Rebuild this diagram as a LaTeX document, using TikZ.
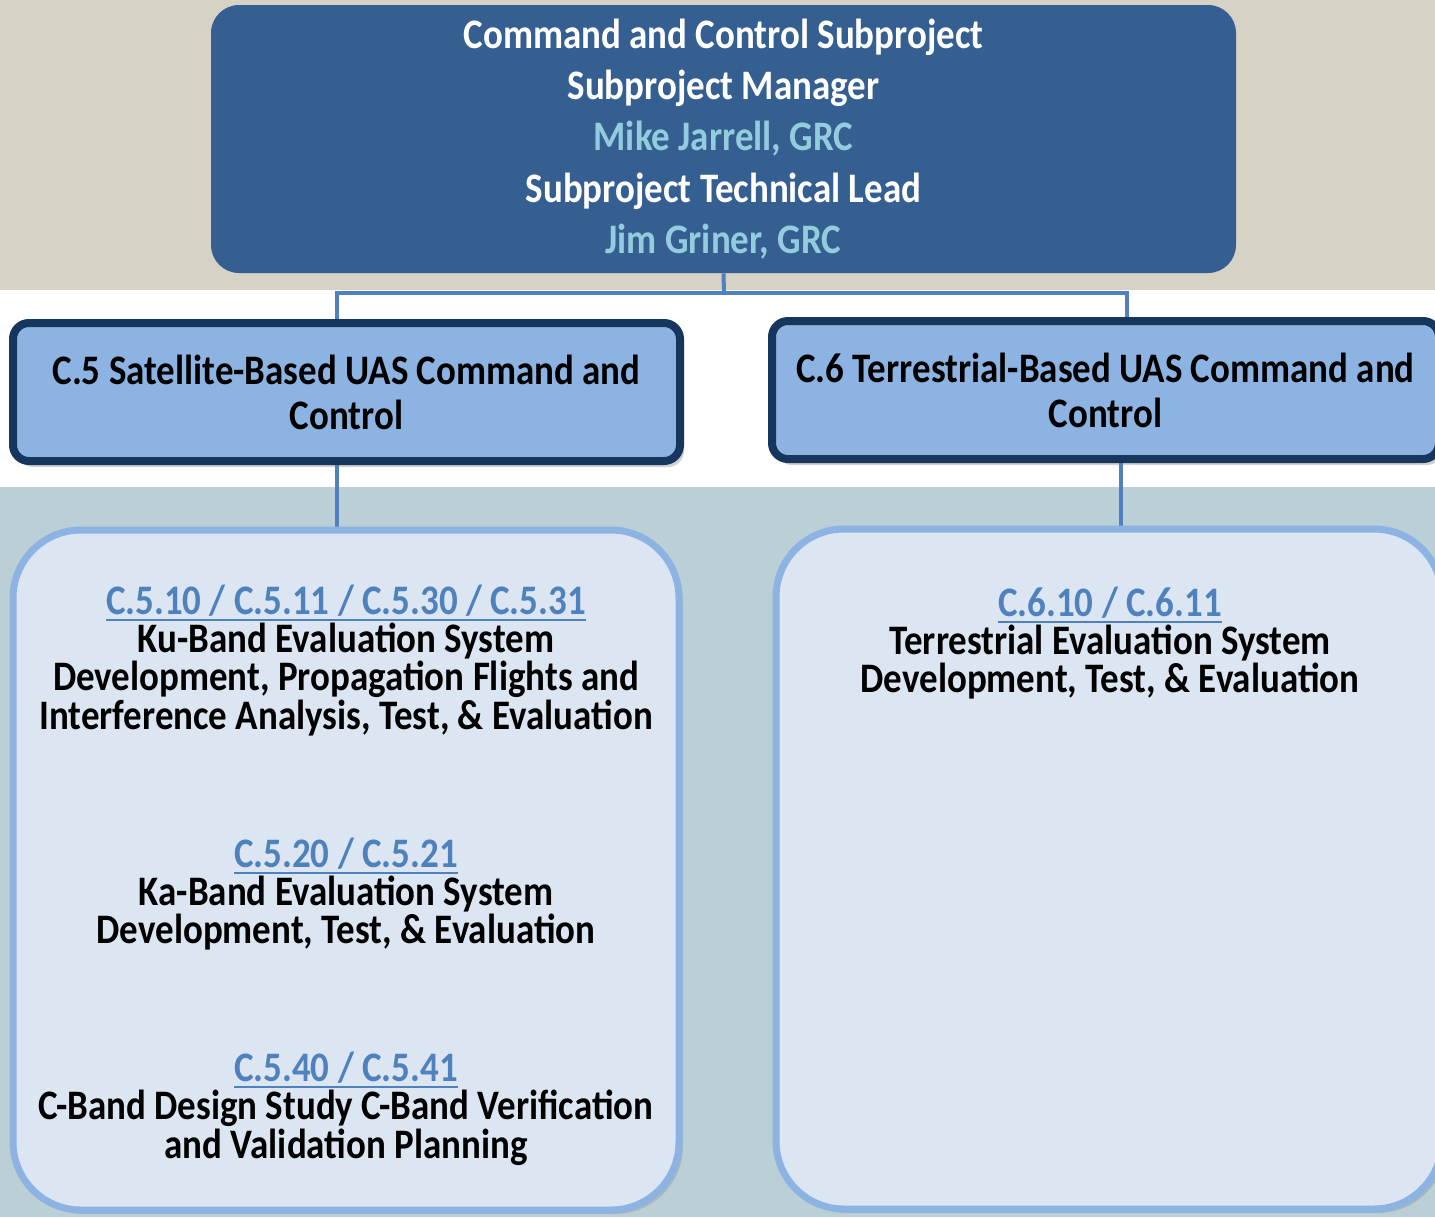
\documentclass[tikz,border=0pt]{standalone}
\usepackage{fontspec}
\setmainfont{Carlito}[FakeStretch=0.88]
\usetikzlibrary{positioning,shadows,backgrounds}
\definecolor{sandbg}{HTML}{D6D2C6}
\definecolor{slatebg}{HTML}{BBD0D6}
\definecolor{headblue}{HTML}{365F91}
\definecolor{nameblue}{HTML}{93CDDD}
\definecolor{midblue}{HTML}{8DB3E2}
\definecolor{navyline}{HTML}{17365D}
\definecolor{paleblue}{HTML}{DCE6F2}
\definecolor{linkblue}{HTML}{4F81BD}
\tikzset{
  topbox/.style={fill=headblue, text=white, rounded corners=14pt, minimum width=512.5pt,
    minimum height=134pt, inner sep=0pt, align=center,
    font=\bfseries\fontsize{21}{25.6}\selectfont},
  groupbox/.style={fill=midblue, draw=navyline, line width=4pt, rounded corners=8pt,
    minimum width=333.5pt, minimum height=69pt, inner sep=0pt, align=center,
    font=\bfseries\fontsize{21}{22.5}\selectfont,
    drop shadow={shadow xshift=2pt, shadow yshift=-3pt, opacity=0.35}},
  workbox/.style={fill=paleblue, draw=midblue, line width=3.5pt, rounded corners=34pt,
    minimum width=333pt, minimum height=340pt, inner sep=0pt,
    drop shadow={shadow xshift=2pt, shadow yshift=-2pt, opacity=0.3}},
  worktext/.style={align=center, inner sep=0pt, font=\bfseries\fontsize{21}{17.9}\selectfont},
  connector/.style={draw=linkblue, line width=2pt},
}
\newcommand{\wbsref}[1]{\textcolor{linkblue}{\setbox0=\hbox{#1}\rlap{\rule[-3.5pt]{\wd0}{1pt}}\box0}}
\begin{document}
\begin{tikzpicture}[x=0.5pt,y=-0.5pt]
  \useasboundingbox (0,0) rectangle (1435,1217);
  \clip (0,0) rectangle (1435,1217);

  \node[topbox] (cc) at (723.5,139) {Command and Control Subproject\\
    Subproject Manager\\
    \textcolor{nameblue}{Mike Jarrell, GRC}\\
    Subproject Technical Lead\\
    \textcolor{nameblue}{Jim Griner, GRC}};

  \node[groupbox] (sat) at (346.5,392) {C.5 Satellite-Based UAS Command and\\ Control};
  \node[groupbox] (ter) at (1105.5,390) {C.6 Terrestrial-Based UAS Command and\\ Control};

  \node[workbox] (satwork) at (346,870) {};
  \node[workbox] (terwork) at (1109,869) {};

  % work packages
  \node[worktext] (ku) at (346,660.5) {\wbsref{C.5.10 / C.5.11 / C.5.30 / C.5.31}\\
    Ku-Band Evaluation System\\
    Development, Propagation Flights and\\
    Interference Analysis, Test, \& Evaluation};
  \node[worktext] (ka) at (346,894) {\wbsref{C.5.20 / C.5.21}\\
    Ka-Band Evaluation System\\
    Development, Test, \& Evaluation};
  \node[worktext] (cband) at (346,1108.5) {\wbsref{C.5.40 / C.5.41}\\
    C-Band Design Study C-Band Verification\\
    and Validation Planning};
  \node[worktext] (terr) at (1110,643) {\wbsref{C.6.10 / C.6.11}\\
    Terrestrial Evaluation System\\
    Development, Test, \& Evaluation};

  \coordinate (bus) at (724,293);
  \coordinate (satin) at (337,300);
  \coordinate (terin) at (1127,300);
  \coordinate (satout) at (337,500);
  \coordinate (terout) at (1121,500);

  \begin{scope}[on background layer]
    \fill[sandbg] (0,0) rectangle (1435,290);
    \fill[white] (0,290) rectangle (1435,487);
    \fill[slatebg] (0,487) rectangle (1435,1217);
    \draw[connector] (cc.south) -- (bus);
    \draw[connector] (sat.north -| satin) |- (bus) -| (ter.north -| terin);
    \draw[connector] (sat.south -| satout) -- (satwork.north -| satout);
    \draw[connector] (ter.south -| terout) -- (terwork.north -| terout);
  \end{scope}
\end{tikzpicture}
\end{document}
